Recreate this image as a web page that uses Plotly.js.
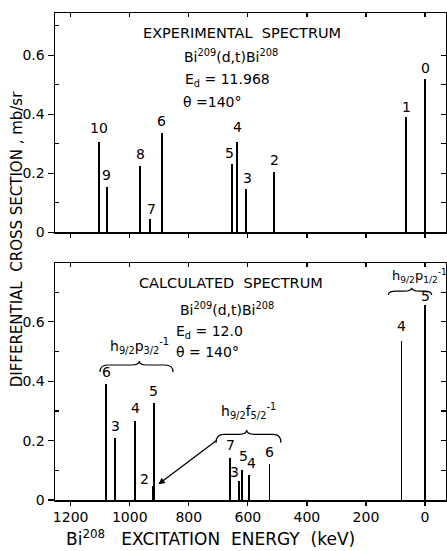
<!DOCTYPE html>
<html><head><meta charset="utf-8">
<script src="https://cdn.plot.ly/plotly-3.0.1.min.js"></script>
<style>html,body{margin:0;padding:0;background:#fff;}#chart{width:447px;height:551px;}</style>
</head><body><div id="chart"></div>
<script>
// ---- data ----
const expEnergy = [0, 64, 511, 606, 636, 654, 892, 931, 965, 1077, 1103];
const expValue  = [0.519, 0.392, 0.203, 0.147, 0.307, 0.232, 0.338, 0.044, 0.226, 0.155, 0.307];
const expLabels = ['0','1','2','3','4','5','6','7','8','9','10'];

const calcEnergy = [0, 80, 527, 597, 621, 631, 661, 918, 921, 981, 1049, 1080];
const calcValue  = [0.657, 0.535, 0.12, 0.084, 0.101, 0.064, 0.142, 0.328, 0.047, 0.267, 0.21, 0.391];
const calcLabels = ['5','4','6','4','5','3','7','5','2','4','3','6'];

const xTicks = [0, 200, 400, 600, 800, 1000, 1200];
const yTicks = [0, 0.2, 0.4, 0.6];
const yTickText = ['0', '0.2', '0.4', '0.6'];

// ---- label nudges (px) and bar widths (keV) ----
const expShift  = [[0,1],[0,0],[0,2],[1,1],[0,5],[-2,1],[0,2],[1,0],[0,2],[0,2],[0,4]];
const calcShift = [[0,-1],[0,5],[0,2],[3,2],[2,4],[-4,-1],[1,3],[0,2],[-9,-3],[0,3],[0,2],[0,2]];
const calcBarW  = [6, 6, 6, 6, 6, 6, 6, 6, 9, 6, 6, 6];

const FONT = 'DejaVu Sans';
const bx0 = 1253, bx1 = -71;

const traces = [
  {type:'bar', x: expEnergy, y: expValue, width: 6, xaxis:'x2', yaxis:'y2',
   marker:{color:'#000', line:{width:0}}, hoverinfo:'skip', showlegend:false},
  {type:'bar', x: calcEnergy, y: calcValue, width: calcBarW, xaxis:'x', yaxis:'y',
   marker:{color:'#000', line:{width:0}}, hoverinfo:'skip', showlegend:false},
  {type:'scatter', x:[null], y:[null], xaxis:'x3', yaxis:'y3', showlegend:false, hoverinfo:'skip'},
  {type:'scatter', x:[null], y:[null], xaxis:'x4', yaxis:'y4', showlegend:false, hoverinfo:'skip'}
];

const ann = [];
expEnergy.forEach((e,i)=>ann.push({xref:'x2', yref:'y2', x:e, y:expValue[i], text:expLabels[i],
  showarrow:false, yanchor:'bottom', xanchor:'center', xshift:expShift[i][0], yshift:expShift[i][1],
  font:{family:FONT, size:14, color:'#000'}}));
calcEnergy.forEach((e,i)=>ann.push({xref:'x', yref:'y', x:e, y:calcValue[i], text:calcLabels[i],
  showarrow:false, yanchor:'bottom', xanchor:'center', xshift:calcShift[i][0], yshift:calcShift[i][1],
  font:{family:FONT, size:14, color:'#000'}}));

function txt(x, y, t, size){
  return {xref:'paper', yref:'paper', x:x, y:y, text:t, showarrow:false, xanchor:'center', yanchor:'middle',
    font:{family:FONT, size:size||14, color:'#000'}};
}
ann.push(txt(0.4795, 0.959, 'EXPERIMENTAL&nbsp;&nbsp;SPECTRUM', 14.5));
ann.push(txt(0.4496, 0.912, 'Bi<sup>209</sup>(d,t)Bi<sup>208</sup>', 14));
ann.push(txt(0.441, 0.862, 'E<sub>d</sub> = 11.968', 14));
ann.push(txt(0.402, 0.818, 'θ =140°', 14));

ann.push(txt(0.4496, 0.445, 'CALCULATED&nbsp;&nbsp;SPECTRUM', 14.5));
ann.push(txt(0.439, 0.392, 'Bi<sup>209</sup>(d,t)Bi<sup>208</sup>', 14));
ann.push(txt(0.394, 0.344, 'E<sub>d</sub> = 12.0', 14));
ann.push(txt(0.391, 0.303, 'θ = 140°', 14));

ann.push(txt(0.215, 0.316, 'h<sub>9/2</sub>p<sub>3/2</sub><sup>-1</sup>', 14));
ann.push(txt(0.496, 0.183, 'h<sub>9/2</sub>f<sub>5/2</sub><sup>-1</sup>', 14));
ann.push(txt(0.932, 0.46, 'h<sub>9/2</sub>p<sub>1/2</sub><sup>-1</sup>', 13));

// arrow from f5/2 brace to the "2" bar
ann.push({xref:'x', yref:'y', axref:'x', ayref:'y', x:903, y:0.053, ax:700, ay:0.205, text:'',
  showarrow:true, arrowhead:2, arrowsize:1, arrowwidth:1.3, arrowcolor:'#000'});

// axis titles
ann.push({xref:'paper', yref:'paper', x:-0.095, y:0.535, text:'DIFFERENTIAL&nbsp;&nbsp;CROSS SECTION , mb/sr',
  textangle:-90, showarrow:false, xanchor:'center', yanchor:'middle', font:{family:FONT, size:15, color:'#000'}});
ann.push({xref:'paper', yref:'paper', x:0.398, y:-0.1045, text:'Bi<sup>208</sup>&nbsp;&nbsp;&nbsp;EXCITATION&nbsp;&nbsp;ENERGY&nbsp;&nbsp;(keV)',
  showarrow:false, xanchor:'center', yanchor:'bottom', font:{family:FONT, size:17, color:'#000'}});

function brace(x0, xm, x1, yEnd, yFlat, yPeak){
  const q = 0.02;
  return {type:'path', xref:'paper', yref:'paper', line:{color:'#000', width:1.2},
    path: `M ${x0},${yEnd} Q ${x0},${yFlat} ${x0+q},${yFlat} L ${xm-q},${yFlat} Q ${xm},${yFlat} ${xm},${yPeak} Q ${xm},${yFlat} ${xm+q},${yFlat} L ${x1-q},${yFlat} Q ${x1},${yFlat} ${x1},${yEnd}`};
}
const shapes = [
  brace(0.1151, 0.2156, 0.3018, 0.2628, 0.2772, 0.2854),
  brace(0.4118, 0.4903, 0.578, 0.1177, 0.1349, 0.1437),
  brace(0.8525, 0.9123, 0.9634, 0.421, 0.429, 0.436)
];

const axBase = {showgrid:false, zeroline:false, showline:true, linecolor:'#000', linewidth:1.5,
  tickcolor:'#000', tickwidth:1.2, tickfont:{family:FONT, size:14, color:'#000'}};

const layout = {
  width:447, height:551, margin:{l:55, r:1, t:13, b:51},
  paper_bgcolor:'#fff', plot_bgcolor:'#fff', showlegend:false, bargap:0,
  xaxis: Object.assign({}, axBase, {domain:[0,1], anchor:'y', range:[bx0,bx1], tickmode:'array', tickvals:xTicks,
    ticks:'outside', ticklen:4}),
  yaxis: Object.assign({}, axBase, {domain:[0,0.486], anchor:'x', range:[0,0.797], tickmode:'array',
    tickvals:yTicks, ticktext:yTickText, ticks:'outside', ticklen:6,
    minor:{tickmode:'array', tickvals:[0.1,0.3,0.5,0.7], ticks:'inside', ticklen:4, tickcolor:'#000'}}),
  xaxis2: Object.assign({}, axBase, {domain:[0,1], anchor:'y2', range:[bx0,bx1], tickmode:'array', tickvals:xTicks,
    ticks:'outside', ticklen:4, showticklabels:false}),
  yaxis2: Object.assign({}, axBase, {domain:[0.5497,1], anchor:'x2', range:[0,0.743], tickmode:'array',
    tickvals:yTicks, ticktext:yTickText, ticks:'outside', ticklen:6,
    minor:{tickmode:'array', tickvals:[0.1,0.3,0.5,0.7], ticks:'inside', ticklen:4, tickcolor:'#000'}}),
  xaxis3: Object.assign({}, axBase, {overlaying:'x', side:'top', anchor:'y3', range:[bx0,bx1], tickmode:'array',
    tickvals:xTicks, ticks:'inside', ticklen:4, showticklabels:false}),
  yaxis3: Object.assign({}, axBase, {overlaying:'y', side:'right', anchor:'x3', range:[0,0.797], tickmode:'array',
    tickvals:[0.1,0.2,0.3,0.4,0.5,0.6,0.7], ticks:'inside', ticklen:5, showticklabels:false}),
  xaxis4: Object.assign({}, axBase, {overlaying:'x2', side:'top', anchor:'y4', range:[bx0,bx1], tickmode:'array',
    tickvals:xTicks, ticks:'inside', ticklen:4, showticklabels:false}),
  yaxis4: Object.assign({}, axBase, {overlaying:'y2', side:'right', anchor:'x4', range:[0,0.743], tickmode:'array',
    tickvals:[0.1,0.2,0.3,0.4,0.5,0.6], ticks:'inside', ticklen:5, showticklabels:false}),
  annotations: ann,
  shapes: shapes
};

Plotly.newPlot('chart', traces, layout, {staticPlot:true, displayModeBar:false});
</script></body></html>
